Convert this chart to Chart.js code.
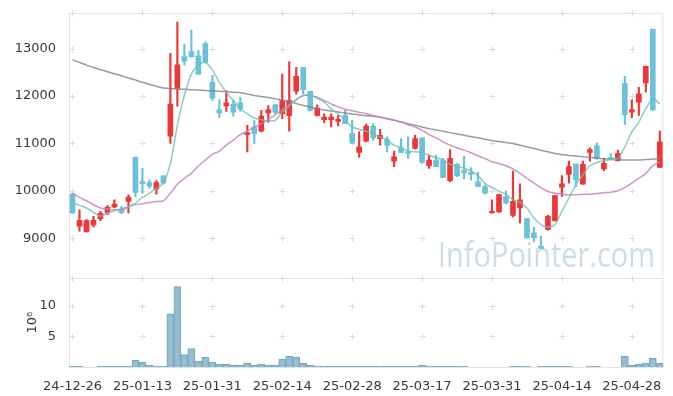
<!DOCTYPE html>
<html><head><meta charset="utf-8">
<script src="https://cdn.jsdelivr.net/npm/chart.js@4/dist/chart.umd.min.js"></script>
<style>html,body{margin:0;padding:0;background:#fff;overflow:hidden}#wrap{width:673px;height:396px;position:relative}</style>
</head><body><div id="wrap"><canvas id="c" width="673" height="396"></canvas></div>
<script>
const dates = ['24-12-26','24-12-27','24-12-30',
 '25-01-02','25-01-03','25-01-06','25-01-07','25-01-08','25-01-09','25-01-10','25-01-13','25-01-14','25-01-15','25-01-16','25-01-17','25-01-20','25-01-21','25-01-22','25-01-23','25-01-24','25-01-31',
 '25-02-03','25-02-04','25-02-05','25-02-06','25-02-07','25-02-10','25-02-11','25-02-12','25-02-13','25-02-14','25-02-17','25-02-18','25-02-19','25-02-20','25-02-21','25-02-24','25-02-25','25-02-26','25-02-27','25-02-28',
 '25-03-04','25-03-05','25-03-06','25-03-07','25-03-10','25-03-11','25-03-12','25-03-13','25-03-14','25-03-17','25-03-18','25-03-19','25-03-20','25-03-21','25-03-24','25-03-25','25-03-26','25-03-27','25-03-28','25-03-31',
 '25-04-01','25-04-02','25-04-03','25-04-04','25-04-07','25-04-08','25-04-09','25-04-10','25-04-11','25-04-14','25-04-15','25-04-16','25-04-17','25-04-18','25-04-21','25-04-22','25-04-23','25-04-24','25-04-25','25-04-28','25-04-29','25-04-30',
 '25-05-02','25-05-07'];

const opens  = [9930,9252,9132,9280,9413,9530,9657,9608,9775,10703,10194,10173,10040,10313,11151,12162,12832,12937,12846,13105,
 12288,11708,11792,11827,11855,11185,11346,11255,11645,11813,11625,11583,12100,12602,12100,11590,11499,11499,11465,11590,
 11206,10808,11046,11367,11101,11080,10627,10906,10822,10892,11115,10529,10648,10648,10215,10557,10424,10389,10194,10089,
 9531,9552,9880,9482,9636,9413,9112,8833,9182,9371,10075,10347,10565,10138,10808,10948,10459,10703,10633,12267,
 11660,11869,12274,13404,10494];
const closes = [9530,9377,9371,9377,9524,9650,9720,9538,9866,9964,10152,10096,10173,10159,11827,12658,12734,12832,12462,12707,
 11953,11645,11855,11660,11729,11220,11206,11576,11708,11660,11904,11904,12414,12135,11695,11744,11555,11555,11506,11415,
 11018,10927,11367,11115,11171,10962,10717,10808,10787,11101,10598,10648,10508,10277,10682,10320,10383,10347,10089,9949,
 9566,9922,9740,9775,9810,9007,9007,8785,9461,9901,10146,10508,10229,10557,10871,10682,10577,10661,10787,11604,
 11708,12043,12623,11708,11032];
const highs  = [9950,9600,9390,9460,9566,9685,9810,9670,9916,10710,10473,10229,10215,10320,12900,13560,13090,13391,12965,13140,
 12441,11925,12114,11904,11974,11381,11485,11695,11800,11830,12462,12721,12602,12602,12100,11813,11625,11625,11590,11695,
 11485,11241,11409,11415,11297,11136,10836,11101,11136,11171,11115,10752,10752,10682,10871,10577,10732,10487,10389,10125,
 9810,9930,10000,10418,10146,9413,9231,9042,9480,9905,10320,10627,10565,10627,10906,11011,10682,10787,10857,12414,
 11918,12183,12630,13410,11262];
const lows   = [9520,9147,9130,9237,9371,9495,9636,9517,9531,9874,9949,10054,9929,10140,11000,11785,12651,12818,12462,12700,
 11904,11549,11674,11576,11674,10822,10996,11241,11450,11620,11520,11255,12043,12043,11680,11576,11436,11346,11367,11415,
 10996,10703,11032,11067,10962,10822,10508,10808,10682,10878,10577,10473,10508,10277,10194,10299,10250,10229,10089,9929,
 9525,9545,9720,9447,9321,9007,8923,8785,9170,9360,9880,10159,10089,10138,10627,10661,10418,10661,10627,11394,
 11541,11590,12079,11700,10494];

const ma5  = [9754,9692,9636,9545,9461,9531,9580,9587,9650,9740,9859,9949,10054,10159,10577,11381,12010,12462,12651,12707,
 12550,12288,12079,11904,11729,11625,11534,11499,11485,11485,11660,11785,11925,12010,12010,11953,11869,11729,11625,11485,
 11346,11297,11255,11206,11136,11067,10962,10906,10836,10822,10808,10752,10697,10648,10557,10522,10473,10418,10320,10159,
 10070,9990,9929,9810,9761,9636,9426,9287,9231,9287,9566,9845,10125,10334,10529,10598,10634,10661,10682,10927,
 11241,11450,11729,11939,11834];
const ma20 = [9949,9859,9789,9706,9636,9608,9601,9615,9671,9706,9727,9754,9775,9789,9949,10138,10264,10368,10522,10648,
 10770,10836,10962,11067,11185,11255,11346,11415,11506,11604,11708,11813,11925,12010,12010,11974,11904,11830,11770,11720,
 11690,11655,11625,11590,11555,11520,11485,11450,11394,11346,11276,11185,11115,11032,10962,10906,10857,10801,10738,10682,
 10613,10577,10529,10459,10368,10264,10159,10068,9985,9949,9929,9915,9915,9922,9929,9943,9957,9971,9999,10068,
 10159,10264,10368,10529,10613];
const ma60 = [12763,12707,12651,12602,12554,12512,12470,12428,12379,12337,12288,12246,12204,12169,12155,12148,12141,12134,12127,12114,
 12110,12100,12090,12080,12070,12040,12010,11989,11967,11939,11911,11876,11841,11800,11765,11729,11702,11681,11660,11639,
 11620,11600,11585,11570,11549,11520,11492,11450,11415,11381,11346,11311,11283,11255,11227,11199,11171,11143,11115,11088,
 11059,11040,11020,10996,10962,10927,10892,10857,10822,10787,10766,10745,10732,10717,10703,10690,10676,10661,10655,10648,
 10648,10648,10661,10669,10676];

const volume = [0.15,0.15,0,0,0.15,0.15,0.15,0.15,0.15,1.13,0.75,0.32,0.15,0.15,8.66,13.06,2.04,3.01,0.97,1.56,
 0.81,0.48,0.48,0.32,0.32,0.59,0.32,0.48,0.32,0.32,1.29,1.77,1.61,0.64,0.32,0.15,0.15,0.15,0.15,0.15,
 0.15,0.15,0.15,0.15,0.15,0.15,0.15,0.15,0.15,0.15,0.32,0.15,0.15,0.15,0.15,0.15,0.15,0,0,0,
 0,0,0,0.15,0.15,0.15,0,0.15,0.15,0.15,0.15,0.15,0,0,0.15,0.15,0,0,0,1.77,
 0.27,0.43,0.59,1.4,0.59];

const priceTicks = [9000,10000,11000,12000,13000];
const volumeTicks = [5,10];
const labelEvery = 10;
const volumeTitle = '10⁶';
const watermark = 'InfoPointer.com';

const UP = '#ef3535', DOWN = '#6cc1da';
const candleColors = opens.map((o,i) => closes[i] >= o ? UP : DOWN);
const bodies = opens.map((o,i) => [o, closes[i]]);
const wicks = lows.map((l,i) => [l, highs[i]]);

const font = {family:'DejaVu Sans', size:13};
const txt = '#3a3a3a';

const decor = {
  id:'decor',
  beforeDatasetsDraw(chart){
    const {ctx, chartArea:a, scales} = chart;
    const x = scales.x, y = scales.y, yv = scales.yv;
    ctx.save();
    ctx.strokeStyle = '#e3e3e3'; ctx.lineWidth = 1;
    ctx.strokeRect(a.left+0.5, a.top+0.5, a.right-a.left-1, a.bottom-a.top);
    ctx.beginPath(); ctx.moveTo(a.left, Math.round(y.bottom)+0.5); ctx.lineTo(a.right, Math.round(y.bottom)+0.5); ctx.stroke();
    ctx.strokeStyle = '#dadada';
    const ys = priceTicks.map(v => y.getPixelForValue(v)).concat(volumeTicks.map(v => yv.getPixelForValue(v)), [y.top, yv.top]);
    for (let i = 0; i < dates.length; i += labelEvery) {
      const px = Math.round(x.getPixelForValue(i)) + 0.5;
      ys.forEach(py => {
        py = Math.round(py) + 0.5;
        ctx.beginPath();
        ctx.moveTo(px-3, py); ctx.lineTo(px+3, py);
        ctx.moveTo(px, py-3); ctx.lineTo(px, py+3);
        ctx.stroke();
      });
    }
    ctx.fillStyle = 'rgba(160,195,214,0.55)';
    ctx.font = '34px "Open Sans"';
    ctx.textBaseline = 'alphabetic';
    const w = ctx.measureText(watermark).width;
    const target = 217;
    ctx.translate(438, 267);
    ctx.scale(target / w, 1);
    ctx.fillText(watermark, 0, 0);
    ctx.restore();
  }
};

new Chart(document.getElementById('c'), {
  data: {
    labels: dates,
    datasets: [
      {type:'line', label:'MA5', data:ma5, yAxisID:'y', borderColor:'rgba(110,192,178,0.8)', borderWidth:1.5, pointRadius:0, tension:0.3, order:0},
      {type:'line', label:'MA20', data:ma20, yAxisID:'y', borderColor:'rgba(196,130,190,0.85)', borderWidth:1.5, pointRadius:0, tension:0.3, order:0},
      {type:'line', label:'MA60', data:ma60, yAxisID:'y', borderColor:'rgba(130,130,130,0.8)', borderWidth:1.5, pointRadius:0, tension:0.3, order:0},
      {type:'bar', label:'body', data:bodies, yAxisID:'y', backgroundColor:candleColors, borderWidth:0, barThickness:5, grouped:false, minBarLength:1.5, order:1},
      {type:'bar', label:'wick', data:wicks, yAxisID:'y', backgroundColor:candleColors, borderWidth:0, barThickness:1.5, grouped:false, minBarLength:1, order:2},
      {type:'bar', label:'volume', data:volume, yAxisID:'yv', backgroundColor:'rgba(140,184,203,0.9)', borderColor:'#78a8bd', borderWidth:1, barPercentage:1, categoryPercentage:1, grouped:false, order:3}
    ]
  },
  options: {
    responsive:false, animation:false,
    layout:{padding:{top:10, right:9.7, left:0, bottom:0}},
    plugins:{legend:{display:false}, tooltip:{enabled:false}},
    scales:{
      x:{type:'category', offset:true, grid:{display:false}, border:{display:false},
         ticks:{autoSkip:false, maxRotation:0, minRotation:0, padding:4, color:txt, font,
           callback:function(v,i){ return i % labelEvery === 0 ? this.getLabelForValue(v) : ''; }},
         afterFit:s => { s.height = 29; }},
      yv:{type:'linear', position:'left', stack:'s', stackWeight:1, min:0, max:14.4,
         grid:{display:false}, border:{display:false},
         title:{display:true, text:volumeTitle, color:txt, font, padding:{top:25, bottom:0}},
         ticks:{padding:5, color:txt, font, callback:v => String(v)},
         afterBuildTicks:s => { s.ticks = volumeTicks.map(v => ({value:v})); },
         afterFit:s => { s.width = 69; }},
      y:{type:'linear', position:'left', stack:'s', stackWeight:3, min:8150, max:13755,
         grid:{display:false}, border:{display:false},
         ticks:{padding:5, color:txt, font, callback:v => String(v)},
         afterBuildTicks:s => { s.ticks = priceTicks.map(v => ({value:v})); },
         afterFit:s => { s.width = 69; }}
    }
  },
  plugins:[decor]
});
</script></body></html>
